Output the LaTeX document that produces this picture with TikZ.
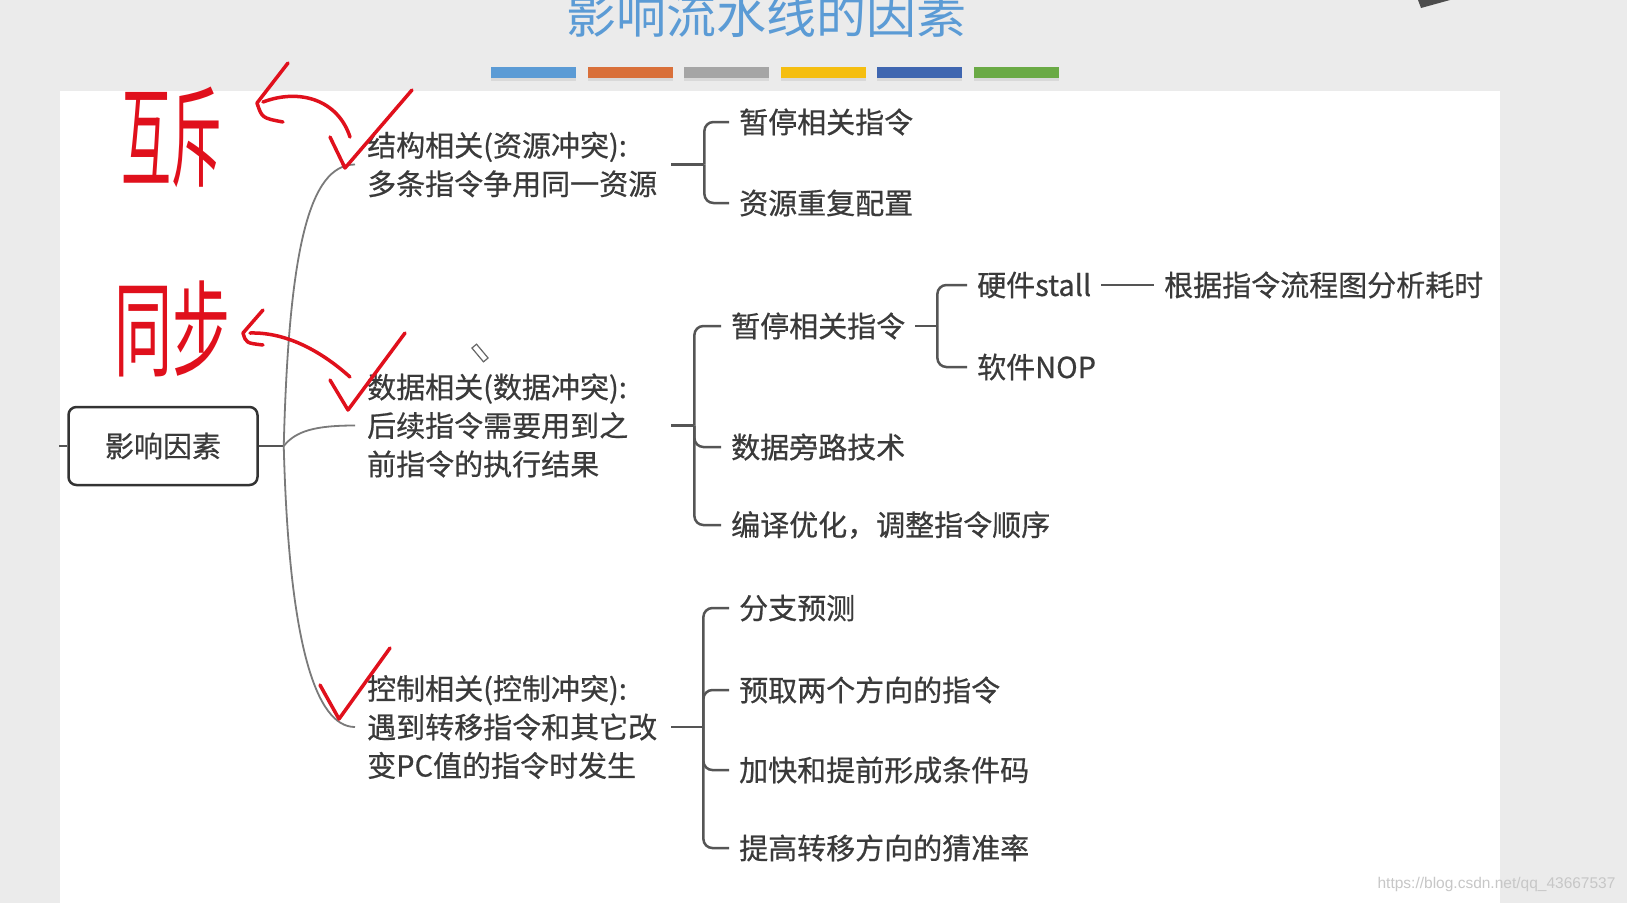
\documentclass[tikz,border=0pt]{standalone}
\usepackage{fontspec}
\usepackage{graphicx}
\setmainfont{Noto Sans CJK SC}
\newfontfamily\mapfont{Noto Sans CJK SC}[FakeBold=0.6]
\newfontfamily\wmfont{Liberation Sans}
\usetikzlibrary{calc}

\definecolor{txtgray}{HTML}{3A3A3A}
\definecolor{linegray}{HTML}{555555}
\definecolor{trunkgray}{HTML}{7A7A7A}
\definecolor{titleblue}{HTML}{5B9BD5}
\definecolor{barblue}{HTML}{5B9BD5}
\definecolor{barorange}{HTML}{D9703A}
\definecolor{bargray}{HTML}{A5A5A5}
\definecolor{baryellow}{HTML}{F5BE10}
\definecolor{bardarkblue}{HTML}{3F66B0}
\definecolor{bargreen}{HTML}{6AAA45}
\definecolor{inkred}{HTML}{E0101C}
\definecolor{pagegray}{HTML}{EBEBEB}

\tikzset{
  topic/.style={anchor=west, inner xsep=12pt, inner ysep=0pt, text width=292pt,
    align=left, text=txtgray, font=\mapfont\fontsize{29}{38.5}\selectfont},
  leaf/.style={anchor=west, inner xsep=10pt, inner ysep=0pt, text=txtgray,
    font=\mapfont\fontsize{29}{35}\selectfont},
  brace/.style={draw=linegray, line width=2.5pt, rounded corners=9pt},
  trunk/.style={draw=trunkgray, line width=1.8pt},
  ink/.style={draw=inkred, line width=3.5pt, line cap=round, line join=round},
}

\begin{document}
\begin{tikzpicture}[x=1pt,y=-1pt]
        \useasboundingbox (0,0) rectangle (1627,903);

        % ===================================================
        % Page and slide panel
        % ===================================================
        \fill[pagegray] (0,0) rectangle (1627,903);
        \fill[white] (60,91) rectangle (1500,903);
        \fill[black!70] (1418,0) -- (1450,0) -- (1421,8) -- cycle;

        % ===================================================
        % Title and colour bars
        % ===================================================
        \node[text=titleblue, font=\fontsize{50}{50}\selectfont] (title) at (766,14) {影响流水线的因素};
        \foreach \c [count=\i from 0] in {barblue,barorange,bargray,baryellow,bardarkblue,bargreen}{
            \fill[black!15] (491+96.6*\i,70) rectangle ++(85,11);
            \fill[\c] (491+96.6*\i,67) rectangle ++(85,11);
        }

        % ===================================================
        % Root and first level
        % ===================================================
        \node[draw=black!80, line width=2.5pt, rounded corners=8pt, fill=white,
              minimum width=189pt, minimum height=78pt, inner sep=0pt, text=txtgray,
              font=\mapfont\fontsize{29}{29}\selectfont] (root) at (163,446) {影响因素};
        \draw[linegray, line width=2.5pt] (root.west) -- ++(-8,0);

        \node[topic] (res) at (355,164.5) {结构相关(资源冲突):\\多条指令争用同一资源};
        \node[topic] (dat) at (355,425.5) {数据相关(数据冲突):\\后续指令需要用到之\\前指令的执行结果};
        \node[topic] (ctl) at (355,727) {控制相关(控制冲突):\\遇到转移指令和其它改\\变PC值的指令时发生};

        % trunk curves
        \draw[linegray, line width=2.5pt] (root.east) -- ++(25,0) coordinate (fork);
        \draw[trunk] (fork) .. controls +(5,-196) and +(-46,0) .. (res.west);
        \draw[trunk] (fork) .. controls +(12,-15) and +(-40,0) .. (dat.west);
        \draw[trunk] (fork) .. controls +(5,194) and +(-40,0) .. (ctl.west);

        % ===================================================
        % Second level
        % ===================================================
        \node[leaf] (resA) at (729,122) {暂停相关指令};
        \node[leaf] (resB) at (729,203) {资源重复配置};

        \node[leaf] (datA) at (721,326) {暂停相关指令};
        \node[leaf] (datB) at (721,447) {数据旁路技术};
        \node[leaf] (datC) at (721,525) {编译优化，调整指令顺序};

        \node[leaf] (hw) at (967,285) {硬件stall};
        \node[leaf] (sw) at (967,367) {软件NOP};
        \node[leaf] (hwNote) at (1154,285) {根据指令流程图分析耗时};

        \node[leaf] (ctlA) at (729,608) {分支预测};
        \node[leaf] (ctlB) at (729,690) {预取两个方向的指令};
        \node[leaf] (ctlC) at (729,770) {加快和提前形成条件码};
        \node[leaf] (ctlD) at (729,848) {提高转移方向的猜准率};

        % brackets
        \draw[brace] (res.east) -- ++(33,0) coordinate (resJ);
        \foreach \n in {resA,resB} \draw[brace] (resJ) |- (\n.west);

        \draw[brace] (dat.east) -- ++(23,0) coordinate (datJ);
        \foreach \n in {datA,datB,datC} \draw[brace] (datJ) |- (\n.west);

        \draw[brace] (datA.east) -- ++(22,0) coordinate (stallJ);
        \foreach \n in {hw,sw} \draw[brace] (stallJ) |- (\n.west);
        \draw[brace] (hw.east) -- (hwNote.west);

        \draw[brace] (ctl.east) -- ++(32,0) coordinate (ctlJ);
        \foreach \n in {ctlA,ctlB,ctlC,ctlD} \draw[brace] (ctlJ) |- (\n.west);

        % ===================================================
        % Red handwriting
        % ===================================================
        \node[text=inkred, font=\fontsize{50}{50}\selectfont] (mutex) at (171,137) {\scalebox{1}[2.2]{互斥}};
        \node[text=inkred, font=\fontsize{58}{58}\selectfont] (sync) at (172,329) {\scalebox{1}[1.8]{同步}};

        \draw[ink] (350,137) .. controls (338,100) and (300,88) .. (263,102);
        \draw[ink] (288,63) -- (257,103) .. controls (262,118) .. (283,122);
        \draw[ink] (330,137) -- (345,168) -- (412,90);

        \draw[ink] (350,377) .. controls (320,350) and (285,332) .. (250,333);
        \draw[ink] (263,310) -- (243,333) .. controls (246,343) .. (263,345);
        \draw[ink] (330,380) -- (348,410) -- (405,333);

        \draw[ink] (320,685) -- (339,719) -- (390,648);

        % pencil cursor
        \draw[black!60, line width=1.2pt, rotate around={-50:(480,353)}] (471,350) rectangle (489,356);

        % ===================================================
        % Watermark
        % ===================================================
        \node[text=black!22, font=\wmfont\fontsize{15.5}{15.5}\selectfont, anchor=east] (wm) at (1619,884) {https://blog.csdn.net/qq\_43667537};

    \end{tikzpicture}
\end{document}
